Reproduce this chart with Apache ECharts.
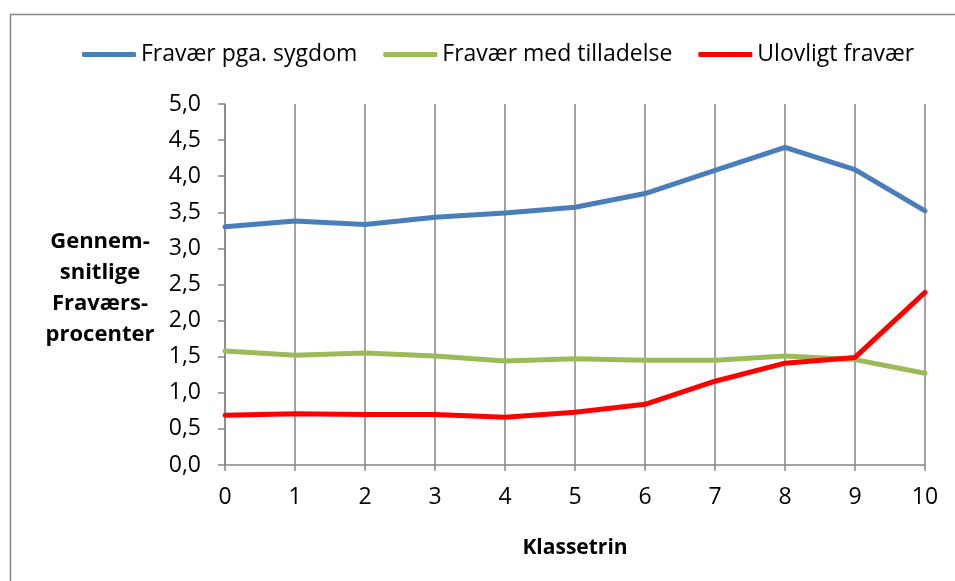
<!DOCTYPE html>
<html>
<head>
<meta charset="utf-8">
<script src="https://cdn.jsdelivr.net/npm/echarts@6/dist/echarts.min.js"></script>
<style>html,body{margin:0;padding:0;background:#fff}#c{width:955px;height:581px}</style>
</head>
<body>
<div id="c"></div>
<script>
const categories = ['0','1','2','3','4','5','6','7','8','9','10'];
const sygdom = [3.30, 3.38, 3.33, 3.43, 3.49, 3.57, 3.76, 4.08, 4.40, 4.09, 3.52];
const tilladelse = [1.58, 1.52, 1.55, 1.51, 1.44, 1.47, 1.45, 1.45, 1.51, 1.46, 1.27];
const ulovligt = [0.69, 0.71, 0.70, 0.70, 0.66, 0.73, 0.84, 1.16, 1.41, 1.49, 2.39];
const seriesNames = ['Fravær pga. sygdom', 'Fravær med tilladelse', 'Ulovligt fravær'];
const yTitle = 'Gennem-\nsnitlige\nFraværs-\nprocenter';
const xTitle = 'Klassetrin';

const FONT = 'Open Sans';
const chart = echarts.init(document.getElementById('c'), null, {renderer: 'canvas'});
const mk = (name, data, color) => ({
  name, type: 'line', data, symbol: 'none', smooth: false,
  lineStyle: {color, width: 5, cap: 'round', join: 'round'},
  itemStyle: {color}
});
chart.setOption({
  animation: false,
  backgroundColor: '#fff',
  textStyle: {fontFamily: FONT},
  grid: {left: 225, right: 30, top: 104, bottom: 116},
  legend: {
    left: 77, top: 38, itemWidth: 54, itemHeight: 5, itemGap: 26,
    icon: 'roundRect',
    textStyle: {fontFamily: FONT, fontSize: 23, color: '#000'},
    data: seriesNames
  },
  xAxis: {
    type: 'category', data: categories, boundaryGap: false,
    axisLine: {lineStyle: {color: '#868686', width: 1.5}},
    axisTick: {show: true, length: 6, alignWithLabel: true, lineStyle: {color: '#868686', width: 1.5}},
    axisLabel: {fontFamily: FONT, fontSize: 23, color: '#000', margin: 21},
    splitLine: {show: true, lineStyle: {color: '#8c8c8c', width: 1.6}}
  },
  yAxis: {
    type: 'value', min: 0, max: 5, interval: 0.5,
    axisLine: {show: true, lineStyle: {color: '#868686', width: 1.5}},
    axisTick: {show: true, length: 7, lineStyle: {color: '#868686', width: 1.5}},
    axisLabel: {fontFamily: FONT, fontSize: 23, color: '#000', margin: 24,
      formatter: v => v.toFixed(1).replace('.', ',')},
    splitLine: {show: false}
  },
  graphic: [
    {type: 'rect', left: 8, top: 12, z: -1, silent: true,
      shape: {width: 1000, height: 700}, style: {fill: 'none', stroke: '#868686', lineWidth: 1.5}},
    {type: 'text', position: [100, 288], z: 10,
      style: {text: yTitle, font: 'bold 22px ' + FONT, fill: '#000', textAlign: 'center', textVerticalAlign: 'middle', lineHeight: 31}},
    {type: 'text', position: [575, 548], z: 10,
      style: {text: xTitle, font: 'bold 21px ' + FONT, fill: '#000', textAlign: 'center', textVerticalAlign: 'middle'}}
  ],
  series: [
    mk(seriesNames[0], sygdom, '#4a7ebb'),
    mk(seriesNames[1], tilladelse, '#9bbb59'),
    mk(seriesNames[2], ulovligt, '#ff0000')
  ]
});
</script>
</body>
</html>
